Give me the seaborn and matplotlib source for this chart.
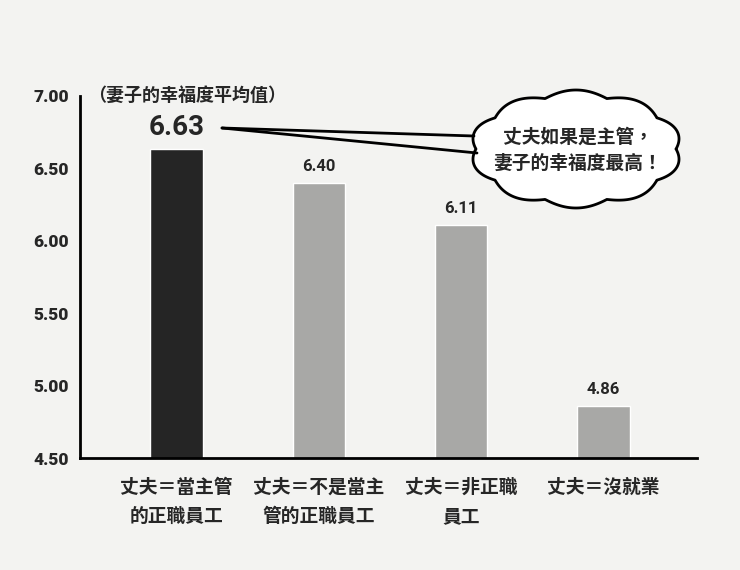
import numpy as np
import pandas as pd
import matplotlib.pyplot as plt
import seaborn as sns
from matplotlib.patches import Polygon
from matplotlib.lines import Line2D

# data
categories = ["丈夫＝當主管\n的正職員工", "丈夫＝不是當主\n管的正職員工", "丈夫＝非正職\n員工", "丈夫＝沒就業"]
happiness = [6.63, 6.40, 6.11, 4.86]
bar_colors = ["#252525", "#a8a8a6", "#a8a8a6", "#a8a8a6"]
y_ticks = [4.50, 5.00, 5.50, 6.00, 6.50, 7.00]
y_title = "（妻子的幸福度平均值）"
bubble_text = "丈夫如果是主管，\n妻子的幸福度最高！"

sns.set_style("white")
plt.rcParams['font.family'] = ['Noto Sans CJK TC', 'DejaVu Sans']
num_font = ["Roboto", "DejaVu Sans"]

bg = "#f3f3f1"
df = pd.DataFrame({"cat": categories, "val": happiness})

fig = plt.figure(figsize=(7.4, 5.7), dpi=100, facecolor=bg)
ax = fig.add_axes([0.108, 0.196, 0.834, 0.636])
ax.set_facecolor(bg)

sns.barplot(data=df, x="cat", y="val", hue="cat", palette=bar_colors,
            legend=False, width=0.37, saturation=1, ax=ax)

ax.set_ylim(4.5, 7.0)
ax.set_xlim(-0.68, 3.66)
ax.set_yticks(y_ticks)
ax.set_yticklabels([f"{t:.2f}" for t in y_ticks], fontsize=12.5, fontweight="heavy",
                   family=num_font)
ax.tick_params(axis="y", direction="out", length=6, width=2, color="black", pad=2)
ax.tick_params(axis="x", length=0, pad=14)
for lab in ax.get_xticklabels():
    lab.set_fontsize(13.5)
    lab.set_fontweight("bold")
    lab.set_linespacing(1.7)
    lab.set_verticalalignment("top")
ax.set_xlabel("")
ax.set_ylabel("")

for s in ["top", "right"]:
    ax.spines[s].set_visible(False)
for s in ["left", "bottom"]:
    ax.spines[s].set_linewidth(2)
    ax.spines[s].set_color("black")

# value labels
for i, v in enumerate(happiness):
    if i == 0:
        ax.text(i, v + 0.06, f"{v:.2f}", ha="center", va="bottom", fontsize=20,
                fontweight="bold", family=num_font)
    else:
        ax.text(i, v + 0.06, f"{v:.2f}", ha="center", va="bottom", fontsize=12,
                fontweight="bold", family=num_font)

ax.text(-0.62, 7.0, y_title, ha="left", va="center", fontsize=13, fontweight="bold")

# speech cloud (figure pixel coords -> fractions)
W, H = 740, 570
def fx(x):
    return x / W
def fy(y):
    return 1 - y / H

cx, cy, rx, ry = 576, 149, 100, 53
t = np.linspace(0, 2 * np.pi, 800)
bump = 6 * np.abs(np.sin(5 * t))
px = cx + (rx + bump) * np.cos(t)
py = cy + (ry + bump) * np.sin(t)
cloud = Polygon(np.column_stack([fx(px), fy(py)]), closed=True, transform=fig.transFigure,
                facecolor="white", edgecolor="black", linewidth=2, zorder=5)
fig.patches.append(cloud)

for ex, ey in [(474, 136), (477, 153)]:
    fig.lines.append(Line2D([fx(222), fx(ex)], [fy(128), fy(ey)], transform=fig.transFigure,
                            color="black", linewidth=2, zorder=6))

fig.text(fx(578), fy(150), bubble_text, ha="center", va="center", fontsize=13.5,
         fontweight="bold", linespacing=1.5, zorder=7)

fig.savefig("out.png", dpi=100, facecolor=bg)
